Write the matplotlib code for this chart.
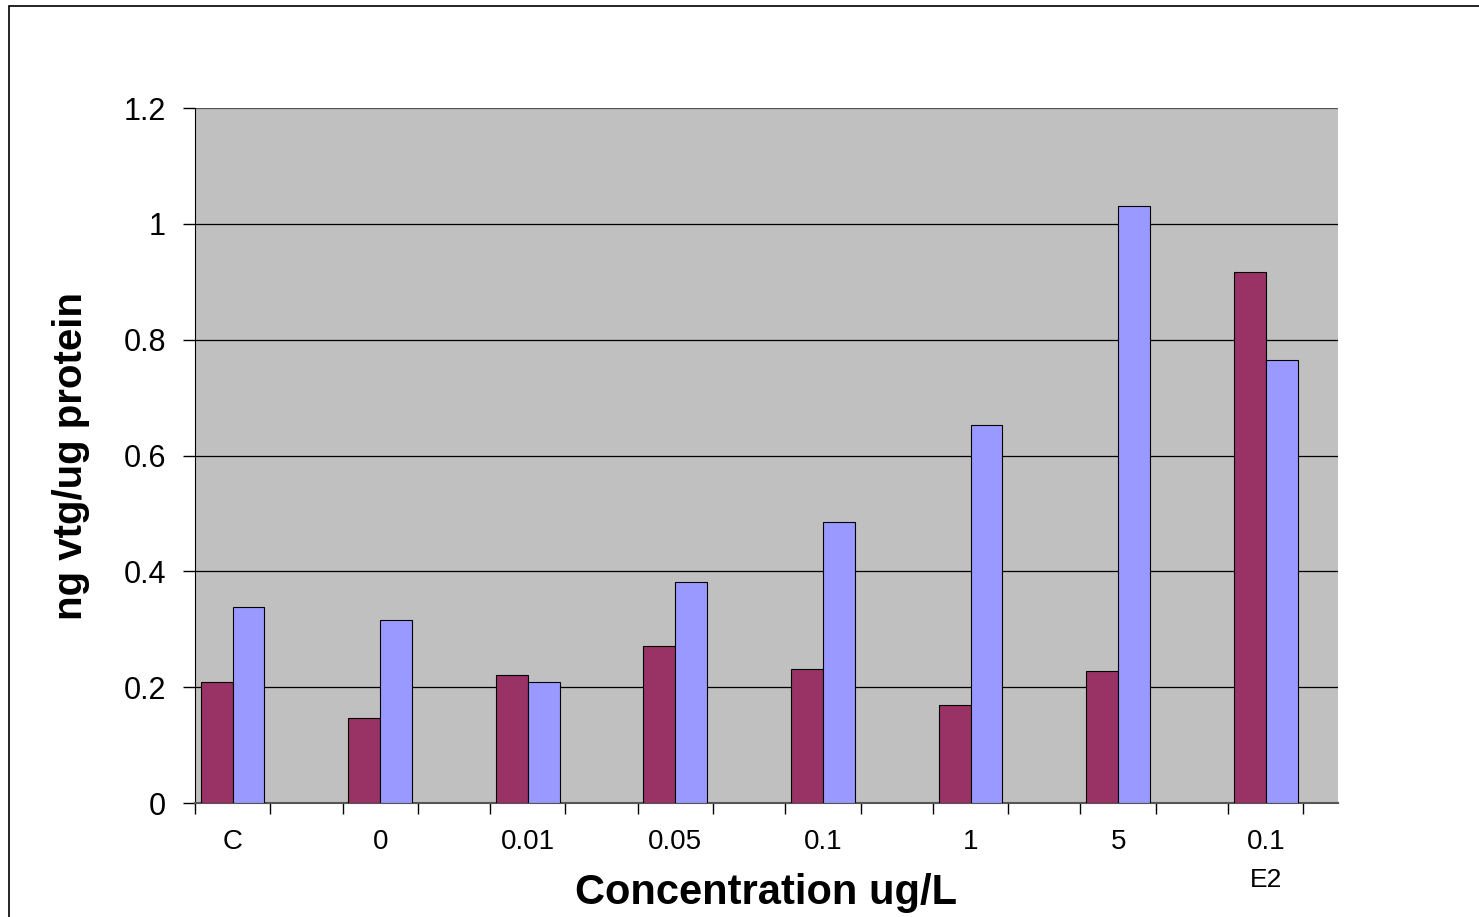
import matplotlib.pyplot as plt
import numpy as np
from matplotlib.patches import Rectangle

plt.rcParams['font.family'] = ['Liberation Sans', 'DejaVu Sans']

categories = ["C", "0", "0.01", "0.05", "0.1", "1", "5", "0.1"]
series_red = [0.209, 0.147, 0.221, 0.271, 0.231, 0.169, 0.228, 0.917]
series_blue = [0.338, 0.316, 0.209, 0.382, 0.485, 0.653, 1.031, 0.765]
yticks = [0, 0.2, 0.4, 0.6, 0.8, 1.0, 1.2]
ytick_labels = ["0", "0.2", "0.4", "0.6", "0.8", "1", "1.2"]

fig = plt.figure(figsize=(14.79, 9.17), dpi=100)
ax = fig.add_axes([0.1318, 0.1243, 0.7729, 0.7579])
ax.set_facecolor("#C0C0C0")

x = np.arange(len(categories))
w = 0.216
ax.bar(x - w / 2, series_red, w, color="#993366", edgecolor="black", linewidth=0.8, zorder=3)
ax.bar(x + w / 2, series_blue, w, color="#9999FF", edgecolor="black", linewidth=0.8, zorder=3)

ax.set_xlim(-0.25, 7.49)
ax.set_ylim(0, 1.2)
ax.set_yticks(yticks)
ax.set_yticklabels(ytick_labels, fontsize=22)
for y in yticks[1:]:
    ax.axhline(y, color="black" if y < 1.2 else "#555555", linewidth=0.9, zorder=1)

# tick marks flank each category, labels sit at the centre
ax.set_xticks(np.concatenate([x - 0.255, x + 0.255]))
ax.set_xticklabels([])
ax.set_xticks(x, minor=True)
ax.set_xticklabels(categories, minor=True, fontsize=20)
ax.tick_params(axis="x", which="major", direction="out", length=8, width=1)
ax.tick_params(axis="x", which="minor", length=0, pad=19)
ax.tick_params(axis="y", direction="out", length=9, width=1, pad=12)
ax.text(7, -0.133, "E2", transform=ax.transData, ha="center", va="center", fontsize=19)

for s in ["top", "right"]:
    ax.spines[s].set_visible(False)
ax.spines["left"].set_color("black")
ax.spines["bottom"].set_color("#555555")
ax.spines["bottom"].set_linewidth(1.5)

ax.set_ylabel("ng vtg/ug protein", fontsize=29, fontweight="bold", labelpad=24)
fig.text(766 / 1479, 1 - 893 / 917, "Concentration ug/L", fontsize=30,
         fontweight="bold", ha="center", va="center")

fig.patches.append(Rectangle((9 / 1479, -0.1), 1.2, 1 - 6 / 917 + 0.1,
                             transform=fig.transFigure, fill=False,
                             edgecolor="black", linewidth=1.2))

fig.savefig("out.png", dpi=100)
